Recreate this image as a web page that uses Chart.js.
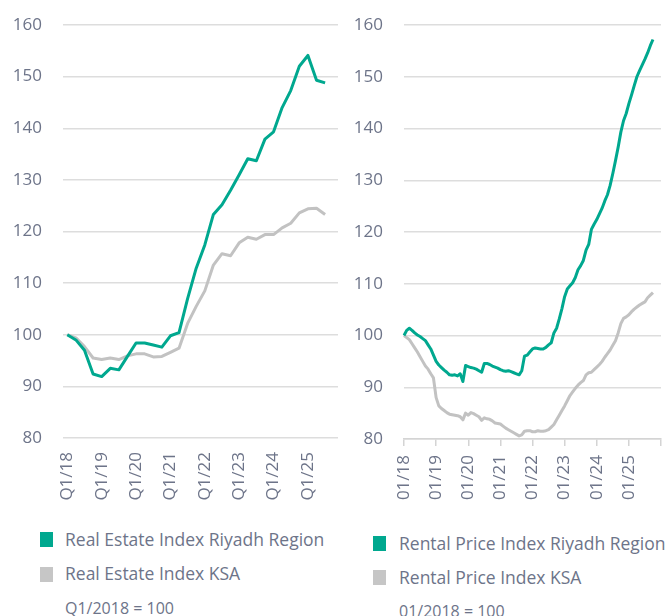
<!DOCTYPE html>
<html>
<head>
<meta charset="utf-8">
<script src="https://cdn.jsdelivr.net/npm/chart.js@4.4.1/dist/chart.umd.min.js"></script>
<style>
  html, body { margin: 0; padding: 0; background: #ffffff; }
  #wrap { position: relative; width: 669px; height: 616px; overflow: hidden; font-family: "Open Sans", Lato, sans-serif; color: #6d7489; }
  canvas { position: absolute; top: 0; }
  .sq { position: absolute; width: 13px; height: 15px; }
  .lt { position: absolute; font-size: 17.5px; line-height: 20px; white-space: nowrap; }
  .ft { position: absolute; font-size: 16px; line-height: 20px; white-space: nowrap; }
</style>
</head>
<body>
<div id="wrap">
  <canvas id="c1" width="340" height="515" style="left:0px"></canvas>
  <canvas id="c2" width="329" height="515" style="left:340px"></canvas>

  <div class="sq" style="left:40px; top:532px; background:#00a88f"></div>
  <div class="lt" style="left:65px; top:529px">Real Estate Index Riyadh Region</div>
  <div class="sq" style="left:40px; top:567px; background:#c6c6c6"></div>
  <div class="lt" style="left:65px; top:563px">Real Estate Index KSA</div>
  <div class="ft" style="left:65px; top:598px">Q1/2018 = 100</div>

  <div class="sq" style="left:373px; top:536px; background:#00a88f"></div>
  <div class="lt" style="left:399px; top:533px">Rental Price Index Riyadh Region</div>
  <div class="sq" style="left:373px; top:570px; background:#c6c6c6"></div>
  <div class="lt" style="left:399px; top:567px">Rental Price Index KSA</div>
  <div class="ft" style="left:399px; top:601px">01/2018 = 100</div>
</div>
<script>
// ---------- data ----------
const quarterLabels = [
  'Q1/18','Q2/18','Q3/18','Q4/18',
  'Q1/19','Q2/19','Q3/19','Q4/19',
  'Q1/20','Q2/20','Q3/20','Q4/20',
  'Q1/21','Q2/21','Q3/21','Q4/21',
  'Q1/22','Q2/22','Q3/22','Q4/22',
  'Q1/23','Q2/23','Q3/23','Q4/23',
  'Q1/24','Q2/24','Q3/24','Q4/24',
  'Q1/25','Q2/25','Q3/25','Q4/25'
];
const realEstateRiyadh = [
  100, 99.0, 97.0, 92.4,
  91.9, 93.5, 93.2, 95.8,
  98.4, 98.4, 98.0, 97.6,
  99.8, 100.4, 107.0, 112.9,
  117.4, 123.3, 125.2, 128.0,
  131.0, 134.1, 133.7, 137.9,
  139.3, 144.0, 147.3, 152.0,
  154.1, 149.3, 148.8
];
const realEstateKSA = [
  100, 99.4, 97.7, 95.5,
  95.2, 95.5, 95.2, 95.9,
  96.3, 96.3, 95.7, 95.8,
  96.6, 97.4, 102.2, 105.5,
  108.5, 113.5, 115.7, 115.3,
  117.8, 118.9, 118.5, 119.4,
  119.4, 120.7, 121.6, 123.6,
  124.4, 124.5, 123.3
];

const monthLabels = [
  '01/18','02/18','03/18','04/18','05/18','06/18','07/18','08/18','09/18','10/18','11/18','12/18',
  '01/19','02/19','03/19','04/19','05/19','06/19','07/19','08/19','09/19','10/19','11/19','12/19',
  '01/20','02/20','03/20','04/20','05/20','06/20','07/20','08/20','09/20','10/20','11/20','12/20',
  '01/21','02/21','03/21','04/21','05/21','06/21','07/21','08/21','09/21','10/21','11/21','12/21',
  '01/22','02/22','03/22','04/22','05/22','06/22','07/22','08/22','09/22','10/22','11/22','12/22',
  '01/23','02/23','03/23','04/23','05/23','06/23','07/23','08/23','09/23','10/23','11/23','12/23',
  '01/24','02/24','03/24','04/24','05/24','06/24','07/24','08/24','09/24','10/24','11/24','12/24',
  '01/25','02/25','03/25','04/25','05/25','06/25','07/25','08/25','09/25','10/25','11/25','12/25',
  '01/26'
];
const rentalRiyadh = [
  100.0, 101.0, 101.4, 101.0, 100.5, 100.1, 99.8, 99.4, 99.0, 98.2, 97.4, 96.2,
  95.0, 94.3, 93.8, 93.3, 92.9, 92.4, 92.3, 92.4, 92.2, 92.6, 91.1, 94.2,
  94.0, 93.8, 93.7, 93.5, 93.2, 92.9, 94.6, 94.6, 94.4, 94.1, 93.9, 93.7,
  93.4, 93.2, 93.1, 93.2, 93.0, 92.8, 92.6, 92.4, 93.2, 96.0, 96.2, 96.8,
  97.4, 97.6, 97.5, 97.4, 97.4, 97.7, 98.2, 98.6, 100.5, 101.4, 103.2, 105.2,
  107.5, 109.0, 109.6, 110.2, 111.2, 112.7, 113.5, 114.5, 116.5, 117.6, 120.5, 121.5,
  122.4, 123.5, 124.6, 126.0, 127.2, 129.0, 131.3, 133.8, 136.4, 139.3, 141.5, 142.9,
  144.8, 146.5, 148.3, 150.0, 151.2, 152.3, 153.4, 154.6, 156.0, 157.2
];
const rentalKSA = [
  100.0, 99.6, 99.2, 98.4, 97.6, 96.8, 95.9, 95.0, 94.1, 93.5, 92.6, 91.8,
  88.0, 86.4, 85.9, 85.5, 85.1, 84.8, 84.7, 84.6, 84.5, 84.3, 83.7, 85.0,
  84.6, 85.1, 84.9, 84.6, 84.3, 83.6, 84.1, 83.9, 83.8, 83.5, 83.1, 83.0,
  82.9, 82.5, 82.1, 81.8, 81.5, 81.2, 80.9, 80.6, 80.8, 81.5, 81.6, 81.6,
  81.4, 81.4, 81.6, 81.5, 81.5, 81.6, 81.8, 82.3, 82.8, 83.7, 84.6, 85.5,
  86.4, 87.4, 88.4, 89.1, 89.8, 90.4, 90.9, 91.3, 92.4, 92.8, 92.9, 93.4,
  93.9, 94.4, 95.0, 95.8, 96.5, 97.2, 98.1, 99.0, 100.5, 102.3, 103.3, 103.6,
  104.0, 104.6, 105.1, 105.5, 105.9, 106.2, 106.5, 107.3, 107.8, 108.3
];
const yMin = 80, yMax = 160, yStep = 10;

// ---------- styles ----------
const GREEN = '#00a88f';
const GREY = '#c2c2c2';
const TEXT = '#6d7489';
const GRID = '#dddddd';
const FONT = { family: '"Open Sans", Lato, sans-serif', size: 17 };

function yAxis(width) {
  return {
    min: yMin, max: yMax,
    ticks: { stepSize: yStep, color: TEXT, font: FONT, padding: 21 },
    grid: { color: GRID, lineWidth: 1.5, drawTicks: false },
    border: { display: false },
    afterFit: s => { s.width = width; s.paddingTop = 0; s.paddingBottom = 0; }
  };
}

function lineDs(label, data, color) {
  return {
    label, data,
    borderColor: color, backgroundColor: color,
    borderWidth: 3, pointRadius: 0, tension: 0,
    borderJoinStyle: 'round', borderCapStyle: 'butt', fill: false
  };
}

Chart.defaults.animation = false;

new Chart(document.getElementById('c1'), {
  type: 'line',
  data: {
    labels: quarterLabels,
    datasets: [
      lineDs('Real Estate Index Riyadh Region', realEstateRiyadh, GREEN),
      lineDs('Real Estate Index KSA', realEstateKSA, GREY)
    ]
  },
  options: {
    responsive: false, animation: false,
    layout: { padding: { top: 25, right: 2, left: 0, bottom: 0 } },
    plugins: { legend: { display: false }, tooltip: { enabled: false } },
    scales: {
      x: {
        type: 'category', offset: true,
        grid: { display: false, drawTicks: false },
        border: { display: false },
        ticks: {
          autoSkip: false, maxRotation: 90, minRotation: 90,
          color: TEXT, font: FONT, padding: 14,
          callback: function(v, i) { const l = this.getLabelForValue(v); return l.startsWith('Q1') ? l : null; }
        },
        afterFit: s => { s.height = 515 - 438; s.paddingLeft = 0; s.paddingRight = 0; }
      },
      y: yAxis(63)
    }
  }
});

new Chart(document.getElementById('c2'), {
  type: 'line',
  data: {
    labels: monthLabels,
    datasets: [
      lineDs('Rental Price Index Riyadh Region', rentalRiyadh, GREEN),
      lineDs('Rental Price Index KSA', rentalKSA, GREY)
    ]
  },
  options: {
    responsive: false, animation: false,
    layout: { padding: { top: 25, right: 8, left: 0, bottom: 0 } },
    plugins: { legend: { display: false }, tooltip: { enabled: false } },
    scales: {
      x: {
        type: 'category', offset: false,
        grid: { display: true, drawOnChartArea: false, drawTicks: true, tickLength: 7, color: '#d4d4d4', lineWidth: 1.5 },
        border: { display: true, color: '#d4d4d4', width: 1.5 },
        ticks: {
          autoSkip: false, maxRotation: 90, minRotation: 90,
          color: TEXT, font: FONT, padding: 9,
          callback: function(v, i) {
            const l = this.getLabelForValue(v);
            if (i === monthLabels.length - 1) return '';
            return l.startsWith('01/') ? l : null;
          }
        },
        afterFit: s => { s.height = 515 - 439; s.paddingLeft = 0; s.paddingRight = 0; }
      },
      y: yAxis(64)
    }
  }
});
</script>
</body>
</html>
